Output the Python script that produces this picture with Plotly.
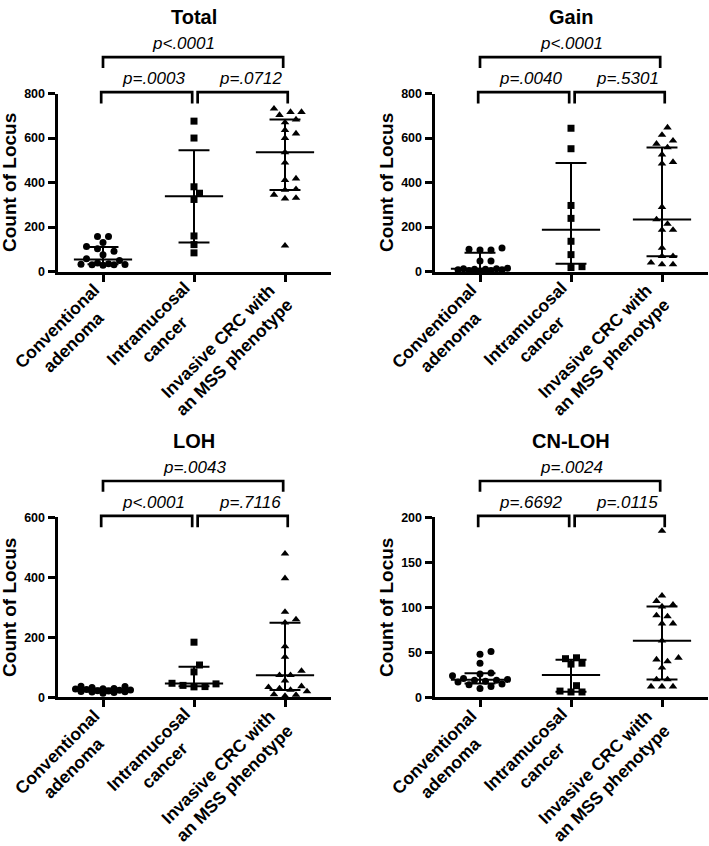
import numpy as np
import plotly.graph_objects as go

W, H = 709, 846
FONT = "Liberation Sans, Arial, Helvetica, sans-serif"

# ---------------- data ----------------
categories = ["Conventional<br>adenoma", "Intramucosal<br>cancer", "Invasive CRC with<br>an MSS phenotype"]
panel_titles = ["Total", "Gain", "LOH", "CN-LOH"]

total_adenoma = [158, 158, 131, 113, 102, 91, 76, 58, 50, 38, 35, 33, 32, 30, 30, 28]
total_intramucosal = [676, 600, 381, 352, 324, 160, 121, 84]
total_invasive = [732, 717, 717, 703, 683, 670, 636, 620, 600, 536, 489, 418, 411, 370, 367, 345, 331, 328, 116]

gain_adenoma = [106, 100, 97, 97, 47, 47, 15, 13, 13, 10, 10, 8, 8, 5, 5, 3]
gain_intramucosal = [644, 552, 297, 239, 136, 76, 22, 18]
gain_invasive = [647, 614, 588, 574, 558, 526, 492, 485, 290, 234, 214, 187, 187, 106, 69, 69, 40, 32, 32]

loh_adenoma = [37, 36, 33, 30, 29, 28, 26, 25, 24, 22, 21, 20, 19, 18, 16, 14]
loh_intramucosal = [184, 108, 85, 47, 45, 40, 36, 35]
loh_invasive = [479, 397, 285, 260, 249, 170, 135, 88, 74, 74, 56, 37, 34, 30, 25, 20, 10, 8, 5]

cnloh_adenoma = [51, 48, 38, 27, 26, 24, 21, 20, 19, 19, 18, 17, 15, 14, 12, 10]
cnloh_intramucosal = [44, 43, 38, 37, 13, 7, 6, 6]
cnloh_invasive = [185, 113, 107, 103, 101, 91, 90, 82, 82, 63, 44, 42, 40, 33, 20, 20, 12, 12, 12]

# p values: [adenoma vs intramucosal, intramucosal vs invasive, adenoma vs invasive]
total_p = ["p=.0003", "p=.0712", "p<.0001"]
gain_p = ["p=.0040", "p=.5301", "p<.0001"]
loh_p = ["p<.0001", "p=.7116", "p=.0043"]
cnloh_p = ["p=.6692", "p=.0115", "p=.0024"]

y_max = [800, 800, 600, 200]
y_step = [200, 200, 200, 50]

panel_groups = [
    [total_adenoma, total_intramucosal, total_invasive],
    [gain_adenoma, gain_intramucosal, gain_invasive],
    [loh_adenoma, loh_intramucosal, loh_invasive],
    [cnloh_adenoma, cnloh_intramucosal, cnloh_invasive],
]
panel_p = [total_p, gain_p, loh_p, cnloh_p]

# ---------------- layout geometry (pixels) ----------------
# (left, right, top, bottom) of each plot area
boxes = [(57.5, 330.5, 88, 269), (434.5, 707.5, 88, 269),
         (57.5, 330.5, 519, 702), (434.5, 707.5, 519, 702)]
symbols = ["circle", "square", "triangle-up"]
msize = [7, 7, 7.5]
top_p_x = [0.88, 1.01, 1.01, 1.01]


def swarm_offsets(vals, ppu, ppc, min_dist=7.5, step=5.5, max_steps=5):
    vals = np.asarray(vals, float)
    ypx = vals * ppu
    order = np.argsort(vals, kind="stable")
    cands = [0.0]
    for m in range(1, max_steps + 1):
        cands += [m * step, -m * step]
    px_list, py_list = [], []
    off = np.zeros(len(vals))
    for i in order:
        best_c, best_d = 0.0, -1.0
        chosen = None
        for c in cands:
            if px_list:
                d = min(np.hypot(c - px, ypx[i] - py) for px, py in zip(px_list, py_list))
            else:
                d = 1e9
            if d >= min_dist:
                chosen = c
                break
            if d > best_d + 1e-9:
                best_c, best_d = c, d
        if chosen is None:
            chosen = best_c
        px_list.append(chosen)
        py_list.append(ypx[i])
        off[i] = chosen / ppc
    return off


fig = go.Figure()
layout = dict(width=W, height=H, margin=dict(l=0, r=0, t=0, b=0),
              paper_bgcolor="white", plot_bgcolor="white", showlegend=False)
annotations = []
shapes = []

for k in range(4):
    l, r, t, b = boxes[k]
    xa = "x" if k == 0 else f"x{k + 1}"
    ya = "y" if k == 0 else f"y{k + 1}"
    ppu = (b - t) / y_max[k]
    ppc = (r - l) / 3.0
    for g, vals in enumerate(panel_groups[k]):
        off = swarm_offsets(vals, ppu, ppc)
        fig.add_trace(go.Scatter(
            x=g + off, y=vals, mode="markers", xaxis=xa, yaxis=ya,
            marker=dict(symbol=symbols[g], size=msize[g], color="black", line=dict(width=0)),
            cliponaxis=False, hoverinfo="skip", showlegend=False))
        q1, med, q3 = np.percentile(vals, [25, 50, 75], method="weibull")
        fig.add_trace(go.Scatter(
            x=[g - 0.32, g + 0.32, None, g - 0.17, g + 0.17, None, g - 0.17, g + 0.17, None, g, g],
            y=[med, med, None, q1, q1, None, q3, q3, None, q1, q3],
            mode="lines", xaxis=xa, yaxis=ya, line=dict(color="black", width=2),
            hoverinfo="skip", showlegend=False))

    ax_suffix = "" if k == 0 else str(k + 1)
    layout["xaxis" + ax_suffix] = dict(
        domain=[l / W, r / W], range=[-0.5, 2.5], anchor=ya,
        showline=True, linewidth=3, linecolor="black",
        ticks="outside", tickvals=[0, 1, 2], ticklen=7, tickwidth=3, tickcolor="black",
        showticklabels=False, showgrid=False, zeroline=False, fixedrange=True)
    layout["yaxis" + ax_suffix] = dict(
        domain=[1 - b / H, 1 - t / H], range=[0, y_max[k]], anchor=xa,
        showline=True, linewidth=3, linecolor="black",
        ticks="outside", tickvals=list(range(0, y_max[k] + 1, y_step[k])),
        ticklen=7, tickwidth=3, tickcolor="black",
        tickfont=dict(family=FONT, size=12.5, color="black", weight="bold"),
        showgrid=False, zeroline=False, fixedrange=True)

    def py(px_above):
        return 1 - (t - px_above) / H

    # brackets
    def bracket(x0, x1, y_top, y_end):
        shapes.append(dict(type="path", xref=xa, yref="paper",
                           path=f"M {x0},{py(y_end)} L {x0},{py(y_top)} L {x1},{py(y_top)} L {x1},{py(y_end)}",
                           line=dict(color="black", width=2.7)))
    bracket(0.0, 1.98, 37, 26)
    bracket(-0.02, 0.98, 1.5, -10)
    bracket(1.04, 2.03, 1.5, -10)

    pfont = dict(family=FONT, size=17, color="black", style="italic")
    pv = panel_p[k]
    annotations.append(dict(text=pv[0], x=0.55, xref=xa, y=py(15), yref="paper",
                            showarrow=False, xanchor="center", yanchor="middle", font=pfont))
    annotations.append(dict(text=pv[1], x=1.62, xref=xa, y=py(15), yref="paper",
                            showarrow=False, xanchor="center", yanchor="middle", font=pfont))
    annotations.append(dict(text=pv[2], x=top_p_x[k], xref=xa, y=py(51), yref="paper",
                            showarrow=False, xanchor="center", yanchor="middle", font=pfont))
    # panel title
    annotations.append(dict(text=panel_titles[k], x=1, xref=xa, y=py(78), yref="paper",
                            showarrow=False, xanchor="center", yanchor="middle",
                            font=dict(family=FONT, size=20, color="black", weight="bold")))
    # y-axis title
    annotations.append(dict(text="Count of Locus", x=(l - 48) / W, xref="paper",
                            y=1 - (t + b) / 2 / H, yref="paper", textangle=-90,
                            showarrow=False, xanchor="center", yanchor="middle",
                            font=dict(family=FONT, size=19, color="black", weight="bold")))
    # category labels
    label_shift = [(-38, -63), (-37.5, -60), (-59, -78)]
    for g, cat in enumerate(categories):
        dx, dy = label_shift[g]
        annotations.append(dict(text=cat, x=g, xref=xa, y=1 - b / H, yref="paper",
                                xshift=dx, yshift=dy, textangle=-45, align="center",
                                showarrow=False, xanchor="center", yanchor="middle",
                                font=dict(family=FONT, size=17.5, color="black", weight="bold")))

layout["annotations"] = annotations
layout["shapes"] = shapes
fig.update_layout(**layout)
fig.write_html("out.html", config={"displayModeBar": False, "staticPlot": True},
               post_script="document.body.style.margin='0';document.body.style.padding='0';")
